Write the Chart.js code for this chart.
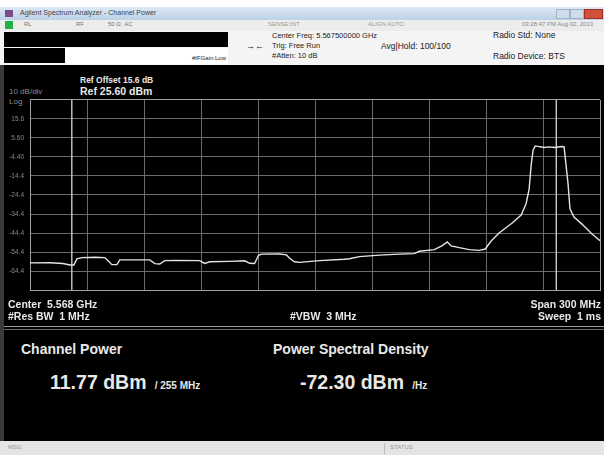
<!DOCTYPE html>
<html>
<head>
<meta charset="utf-8">
<script src="https://cdn.jsdelivr.net/npm/chart.js@4.4.1/dist/chart.umd.min.js"></script>
<style>
  body { margin: 0; width: 604px; height: 455px; background: #fff; overflow: hidden; font-family: "Liberation Sans", Arial, sans-serif; }
  .abs { position: absolute; white-space: nowrap; }
  #titlebar { left: 0; top: 7px; width: 604px; height: 13px; background: linear-gradient(#dce8f4, #bcd2e8); }
  #menubar { left: 0; top: 20px; width: 604px; height: 11px; background: #ececec; border-bottom: 1px solid #c8c8c8; }
  #header { left: 0; top: 31px; width: 604px; height: 34px; background: #f4f4f4; }
  #screen { left: 0; top: 65px; width: 604px; height: 376px; background: #000; border-left: 4px solid #3a3a3a; box-sizing: border-box; }
  #status { left: 0; top: 441px; width: 604px; height: 14px; background: #e4e4e4; }
  .hdr { font-size: 7px; color: #222; }
  .wht { color: #e8e8e8; font-weight: bold; }
  .dim { color: #8a8a8a; font-size: 8px; }
  canvas { position: absolute; left: 0; top: 90px; }
</style>
</head>
<body>
<div id="titlebar" class="abs"></div>
<div class="abs" style="left:5px;top:10px;width:8px;height:7px;background:#7a4a8a;"></div>
<div class="abs" style="left:20px;top:9px;font-size:7px;color:#444;">Agilent Spectrum Analyzer - Channel Power</div>
<div class="abs" style="left:556px;top:9px;width:12px;height:8px;background:#cfdcec;border:1px solid #9fb3c8;"></div>
<div class="abs" style="left:570px;top:9px;width:12px;height:8px;background:#cfdcec;border:1px solid #9fb3c8;"></div>
<div class="abs" style="left:584px;top:9px;width:17px;height:8px;background:#d0503a;border:1px solid #a03020;"></div>

<div id="menubar" class="abs"></div>
<div class="abs" style="left:5px;top:21px;width:8px;height:8px;background:#22b04a;"></div>
<div class="abs hdr" style="left:24px;top:21px;color:#777;font-size:6px;">RL</div>
<div class="abs hdr" style="left:76px;top:21px;color:#777;font-size:6px;">RF</div>
<div class="abs hdr" style="left:108px;top:21px;color:#777;font-size:6px;">50 Ω &nbsp;AC</div>
<div class="abs hdr" style="left:268px;top:21px;color:#999;font-size:6px;">SENSE:INT</div>
<div class="abs hdr" style="left:368px;top:21px;color:#999;font-size:6px;">ALIGN AUTO</div>
<div class="abs hdr" style="left:522px;top:21px;color:#888;font-size:6px;">03:28:47 PM Aug 02, 2013</div>

<div id="header" class="abs"></div>
<div class="abs" style="left:4px;top:32px;width:224px;height:15px;background:#000;"></div>
<div class="abs" style="left:4px;top:48px;width:61px;height:15px;background:#000;"></div>
<div class="abs" style="left:65px;top:48px;width:163px;height:16px;background:#fff;"></div>
<div class="abs hdr" style="left:192px;top:55px;font-size:6px;">#IFGain:Low</div>
<div class="abs hdr" style="left:246px;top:41px;font-size:9px;">→←</div>
<div class="abs hdr" style="left:272px;top:31px;font-size:7.5px;">Center Freq: 5.567500000 GHz</div>
<div class="abs hdr" style="left:272px;top:41px;font-size:7.5px;">Trig: Free Run</div>
<div class="abs hdr" style="left:272px;top:51px;font-size:7.5px;">#Atten: 10 dB</div>
<div class="abs hdr" style="left:381px;top:41px;font-size:8.5px;">Avg|Hold: 100/100</div>
<div class="abs hdr" style="left:493px;top:30px;font-size:8.5px;">Radio Std: None</div>
<div class="abs hdr" style="left:493px;top:51px;font-size:8.5px;">Radio Device: BTS</div>

<div id="screen" class="abs"></div>
<div class="abs wht" style="left:80px;top:75px;font-size:8.5px;">Ref Offset 15.6 dB</div>
<div class="abs wht" style="left:80px;top:85px;font-size:10.5px;">Ref 25.60 dBm</div>
<div class="abs dim" style="left:9px;top:87px;">10 dB/div</div>
<div class="abs dim" style="left:9px;top:97px;">Log</div>

<canvas id="specChart" width="604" height="210"></canvas>

<div class="abs wht" style="left:8px;top:298px;font-size:10.5px;">Center &nbsp;5.568 GHz</div>
<div class="abs wht" style="left:8px;top:310px;font-size:10.5px;">#Res BW &nbsp;1 MHz</div>
<div class="abs wht" style="left:290px;top:310px;font-size:10.5px;">#VBW &nbsp;3 MHz</div>
<div class="abs wht" style="right:3px;top:298px;font-size:10.5px;">Span 300 MHz</div>
<div class="abs wht" style="right:3px;top:310px;font-size:10.5px;">Sweep &nbsp;1 ms</div>
<div class="abs" style="left:4px;top:326px;width:600px;height:1px;background:#9a9a9a;"></div>
<div class="abs" style="left:4px;top:329px;width:600px;height:1px;background:#6a6a6a;"></div>

<div class="abs wht" style="left:21px;top:341px;font-size:14px;">Channel Power</div>
<div class="abs wht" style="left:50px;top:371px;font-size:19.5px;">11.77 dBm <span style="font-size:10px;">&nbsp;/ 255 MHz</span></div>
<div class="abs wht" style="left:273px;top:341px;font-size:14px;">Power Spectral Density</div>
<div class="abs wht" style="left:300px;top:371px;font-size:19.5px;">-72.30 dBm <span style="font-size:10px;">&nbsp;/Hz</span></div>

<div id="status" class="abs"></div>
<div class="abs hdr" style="left:8px;top:444px;color:#999;font-size:6px;">MSG</div>
<div class="abs" style="left:384px;top:443px;width:1px;height:11px;background:#bbb;"></div>
<div class="abs hdr" style="left:390px;top:444px;color:#999;font-size:6px;">STATUS</div>

<script>
// sweep: center 5567.5 MHz, span 300 MHz, 10 dB/div from ref 25.6 dBm
const xGrid = [5418, 5448, 5478, 5508, 5538, 5568, 5598, 5628, 5658, 5688, 5718];
const yTicks = [-74.4, -64.4, -54.4, -44.4, -34.4, -24.4, -14.4, -4.4, 5.6, 15.6, 25.6];
const yTickLabels = ['', '-64.4', '-54.4', '-44.4', '-34.4', '-24.4', '-14.4', '-4.40', '5.60', '15.6', ''];

// trace (MHz, dBm)
const freqMHz = [5418.0, 5428.5, 5435.3, 5439.0, 5441.1, 5442.7, 5445.3, 5452.2, 5457.4, 5459.0,
  5461.1, 5463.7, 5465.3, 5470.5, 5481.0, 5483.7, 5486.3, 5488.9, 5494.2, 5507.3,
  5509.9, 5512.6, 5523.1, 5531.0, 5533.6, 5536.2, 5538.3, 5539.9, 5549.4, 5553.0,
  5554.6, 5557.2, 5559.9, 5570.4, 5583.5, 5586.1, 5591.4, 5601.9, 5612.4, 5620.3,
  5622.9, 5630.8, 5635.0, 5637.6, 5639.7, 5643.9, 5649.2, 5654.4, 5657.6, 5660.7,
  5664.9, 5667.6, 5671.8, 5676.5, 5679.1, 5680.7, 5681.8, 5682.8, 5683.9, 5688.6,
  5691.2, 5693.9, 5698.0, 5699.1, 5700.1, 5701.2, 5702.2, 5704.3, 5708.5, 5713.8, 5718.0];
const traceDbm = [-60.1, -60.0, -60.4, -61.2, -61.2, -58.0, -57.3, -57.1, -57.3, -58.8,
  -61.0, -61.0, -58.5, -58.5, -58.5, -60.5, -60.7, -58.9, -58.8, -58.9,
  -60.4, -59.5, -59.3, -59.0, -60.3, -60.4, -56.1, -55.5, -55.4, -55.9,
  -57.7, -59.5, -59.8, -58.9, -58.2, -57.9, -56.8, -56.0, -55.5, -55.2,
  -54.0, -53.1, -51.0, -49.1, -51.2, -52.1, -53.1, -53.5, -52.8, -48.6,
  -44.4, -42.3, -39.1, -34.9, -29.0, -21.3, -8.4, -0.7, 1.4, 0.6,
  0.9, 0.6, 1.1, 0.9, -8.4, -18.7, -31.6, -36.0, -39.7, -44.9, -48.4];

// 255 MHz integration bandwidth edges
const channelEdges = [5440, 5695];

const ctx = document.getElementById('specChart').getContext('2d');
const gridGray = '#6b6b6b';
const frameGray = '#a0a0a0';
const yMin = yTicks[0], yMax = yTicks[yTicks.length - 1];

const datasets = [{
  data: freqMHz.map((f, i) => ({ x: f, y: traceDbm[i] })),
  borderColor: '#e4e4e4',
  borderWidth: 1.4,
  pointRadius: 0,
  tension: 0
}];
channelEdges.forEach(f => datasets.push({
  data: [{ x: f, y: yMin }, { x: f, y: yMax }],
  borderColor: '#c8c8c8',
  borderWidth: 1.4,
  pointRadius: 0
}));

new Chart(ctx, {
  type: 'line',
  data: { datasets: datasets },
  options: {
    responsive: false,
    animation: false,
    events: [],
    layout: { padding: { top: 9, right: 4, bottom: 7, left: 0 } },
    plugins: { legend: { display: false }, tooltip: { enabled: false } },
    scales: {
      x: {
        type: 'linear',
        min: xGrid[0],
        max: xGrid[xGrid.length - 1],
        afterBuildTicks: s => { s.ticks = xGrid.map(v => ({ value: v })); },
        afterFit: s => { s.height = 0; },
        ticks: { display: false },
        grid: { color: c => (c.tick && (c.tick.value === xGrid[0] || c.tick.value === xGrid[xGrid.length - 1])) ? frameGray : gridGray, drawTicks: false },
        border: { color: frameGray }
      },
      y: {
        min: yMin,
        max: yMax,
        afterBuildTicks: s => { s.ticks = yTicks.map(v => ({ value: v })); },
        afterFit: s => { s.width = 30; },
        ticks: {
          color: '#8a8a8a',
          padding: 6,
          font: { family: 'Liberation Sans', size: 6.5 },
          callback: (v, i) => yTickLabels[i]
        },
        grid: { color: c => (c.tick && (c.tick.value === yMax || c.tick.value === yMin)) ? frameGray : gridGray, drawTicks: false },
        border: { color: frameGray }
      }
    }
  }
});
</script>
</body>
</html>
